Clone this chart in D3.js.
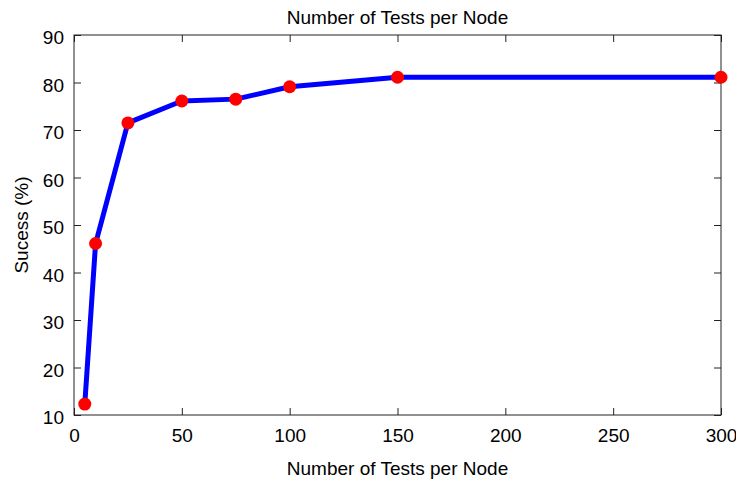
<!DOCTYPE html>
<html>
<head>
<meta charset="utf-8">
<script src="https://cdn.jsdelivr.net/npm/d3@7"></script>
<style>
  body { margin: 0; background: #fff; }
  text { font-family: "Liberation Sans", Arial, sans-serif; fill: #000; }
</style>
</head>
<body>
<div id="chart"></div>
<script>
// data
const testsPerNode = [5, 10, 25, 50, 75, 100, 150, 300];
const successPct = [12.3, 46.1, 71.5, 76.1, 76.5, 79.1, 81.1, 81.1];
const xTicks = [0, 50, 100, 150, 200, 250, 300];
const yTicks = [10, 20, 30, 40, 50, 60, 70, 80, 90];

let width = 736,
    height = 479,
    margin = {top: 35, right: 15, bottom: 64, left: 74};

let svg = d3.select('#chart')
  .append('svg')
  .attr('xmlns', 'http://www.w3.org/2000/svg')
  .attr('width', width)
  .attr('height', height);

let x = d3.scaleLinear().domain([0, 300]).range([margin.left, width - margin.right]);
let y = d3.scaleLinear().domain([10, 90]).range([height - margin.bottom, margin.top]);

let fontSize = 19;
let tickLen = 7;

// plot box
svg.append('rect')
  .attr('x', x(0))
  .attr('y', y(90))
  .attr('width', x(300) - x(0))
  .attr('height', y(10) - y(90))
  .attr('fill', 'none')
  .attr('stroke', '#222')
  .attr('stroke-width', 1);

// inward ticks on all four sides
let xAxisBottom = d3.axisBottom(x).tickValues(xTicks).tickSizeInner(-tickLen).tickSizeOuter(0).tickPadding(14);
let xAxisTop = d3.axisTop(x).tickValues(xTicks).tickSizeInner(-tickLen).tickSizeOuter(0).tickFormat('');
let yAxisLeft = d3.axisLeft(y).tickValues(yTicks).tickSizeInner(-tickLen).tickSizeOuter(0).tickPadding(10);
let yAxisRight = d3.axisRight(y).tickValues(yTicks).tickSizeInner(-tickLen).tickSizeOuter(0).tickFormat('');

function styleAxis(g) {
  g.select('.domain').remove();
  g.selectAll('line').attr('stroke', '#222');
  g.selectAll('text')
    .style('font-family', '"Liberation Sans", Arial, sans-serif')
    .style('font-size', fontSize + 'px')
    .attr('fill', '#000');
}

svg.append('g').attr('transform', 'translate(0,' + y(10) + ')').call(xAxisBottom).call(styleAxis)
  .selectAll('text').attr('dy', '0.71em');
svg.append('g').attr('transform', 'translate(0,' + y(90) + ')').call(xAxisTop).call(styleAxis);
svg.append('g').attr('transform', 'translate(' + x(0) + ',0)').call(yAxisLeft).call(styleAxis)
  .selectAll('text').attr('dy', '0.47em');
svg.append('g').attr('transform', 'translate(' + x(300) + ',0)').call(yAxisRight).call(styleAxis);

// line
let line = d3.line()
  .x((d, i) => x(testsPerNode[i]))
  .y(d => y(d));

svg.append('path')
  .datum(successPct)
  .attr('d', line)
  .attr('fill', 'none')
  .attr('stroke', '#0000ff')
  .attr('stroke-width', 5)
  .attr('stroke-linejoin', 'round');

// markers
svg.selectAll('circle.pt')
  .data(successPct)
  .enter().append('circle')
  .attr('class', 'pt')
  .attr('cx', (d, i) => x(testsPerNode[i]))
  .attr('cy', d => y(d))
  .attr('r', 6.5)
  .attr('fill', '#ff0000');

// titles
let cx = (x(0) + x(300)) / 2;
svg.append('text')
  .attr('x', cx)
  .attr('y', 24)
  .attr('text-anchor', 'middle')
  .style('font-size', fontSize + 'px')
  .text('Number of Tests per Node');

svg.append('text')
  .attr('x', cx)
  .attr('y', 475)
  .attr('text-anchor', 'middle')
  .style('font-size', fontSize + 'px')
  .text('Number of Tests per Node');

svg.append('text')
  .attr('transform', 'translate(28,' + ((y(10) + y(90)) / 2) + ') rotate(-90)')
  .attr('text-anchor', 'middle')
  .style('font-size', fontSize + 'px')
  .text('Sucess (%)');
</script>
</body>
</html>
